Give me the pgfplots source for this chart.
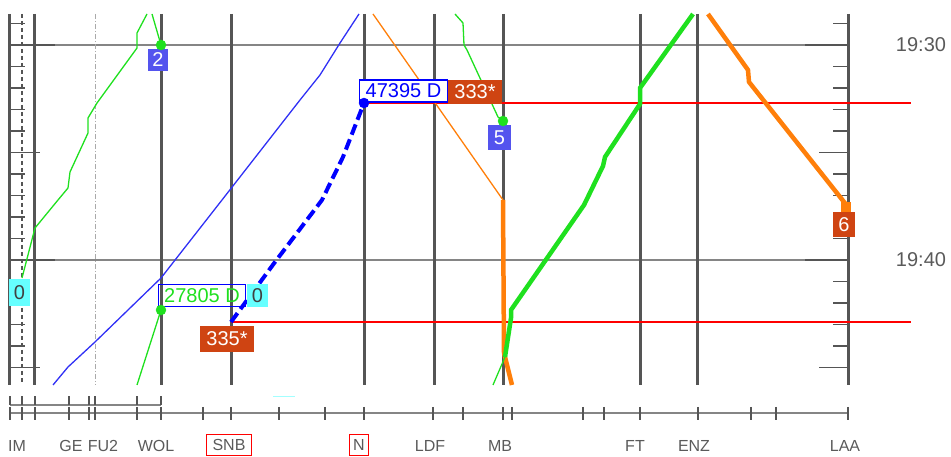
\documentclass[border=0pt]{standalone}
\usepackage{pgfplots}
\pgfplotsset{compat=1.18}
\usepackage{fontspec}
\setmainfont{Liberation Sans}
\definecolor{stat}{HTML}{555555}
\definecolor{gridc}{HTML}{858585}
\definecolor{tgreen}{HTML}{1FE01F}
\definecolor{torange}{HTML}{FF7F0A}
\definecolor{tblue}{HTML}{3030F5}
\definecolor{lblue}{HTML}{5454EE}
\definecolor{lred}{HTML}{CF4412}
\definecolor{lcyan}{HTML}{66FFFF}
\definecolor{txt}{HTML}{5A5A5A}
\begin{document}
\begin{tikzpicture}[
    big/.style={font=\fontsize{20}{20}\selectfont, inner sep=0pt, anchor=center},
    stn/.style={font=\fontsize{16}{16}\selectfont, text=txt, inner sep=0pt, anchor=center},
]
\begin{axis}[
    hide axis, clip=false, scale only axis,
    width=838pt, height=371pt,
    xmin=10, xmax=848,
    ymin=28.558, ymax=45.814,
    y dir=reverse,
]
% page size
\path (axis cs:0,27.907) rectangle (axis cs:951,49.116);

% hour grid
\pgfplotsinvokeforeach{30,40}{
  \draw[gridc, line width=2.5pt] (axis cs:10,#1) -- (axis cs:848,#1);
}
% station lines
\pgfplotsinvokeforeach{10,35,161,231,364,434,503,640,697,848}{
  \draw[stat, line width=3pt] (axis cs:#1,28.558) -- (axis cs:#1,45.814);
}
\draw[stat, line width=1.2pt, dash pattern=on 4pt off 3pt] (axis cs:22,28.558) -- (axis cs:22,45.814);
\draw[gridc!70, line width=1pt, dash pattern=on 5pt off 2pt on 1pt off 2pt] (axis cs:95,28.558) -- (axis cs:95,45.814);

% minute ticks
\pgfplotsinvokeforeach{29,...,45}{
  \draw[stat, line width=1.5pt] (axis cs:10,#1) -- (axis cs:25,#1);
  \draw[stat, line width=1.5pt] (axis cs:833,#1) -- (axis cs:848,#1);
}
\pgfplotsinvokeforeach{35,45}{
  \draw[stat, line width=1.5pt] (axis cs:10,#1) -- (axis cs:40,#1);
  \draw[stat, line width=1.5pt] (axis cs:819,#1) -- (axis cs:848,#1);
}
\pgfplotsinvokeforeach{30,40}{
  \draw[stat, line width=2.5pt] (axis cs:10,#1) -- (axis cs:55,#1);
  \draw[stat, line width=2.5pt] (axis cs:805,#1) -- (axis cs:848,#1);
}
\node[big, text=txt] at (axis cs:921,30) {19:30};
\node[big, text=txt] at (axis cs:921,40) {19:40};

% red lines
\draw[red, line width=1.3pt] (axis cs:364,32.698) -- (axis cs:911,32.698);
\draw[red, line width=1.3pt] (axis cs:231,42.884) -- (axis cs:911,42.884);

% trains
\addplot[tgreen, line width=1.3pt] coordinates {
  (22,40.837) (35,38.512) (58,37.209) (68,36.651) (70,35.907) (88,34.093)
  (88,33.395) (97,32.698) (137,30.140) (137,29.442) (147,28.558)};
\addplot[tgreen, line width=1.3pt] coordinates {(152,28.558) (161,30)};
\addplot[tgreen, line width=1.3pt] coordinates {(161,42.326) (137,45.814)};
\addplot[tblue, line width=1.3pt] coordinates {
  (53,45.814) (68,44.977) (95,43.814) (161,40.837) (222,37.209)
  (300,32.558) (320,31.395) (340,29.907) (359,28.558)};
\addplot[blue, line width=4pt, dash pattern=on 11pt off 5pt] coordinates {
  (231,42.884) (275,40.093) (322,37.209) (343,35.209) (364,32.698)};
\addplot[torange, line width=1.3pt] coordinates {(373,28.558) (503,37.209)};
\addplot[torange, line width=4.5pt] coordinates {(503,37.209) (504,44.326) (512,45.814)};
\addplot[tgreen, line width=1.3pt] coordinates {
  (455,28.558) (463,28.977) (464,30) (467,30.233) (498,33.349) (503,33.535)};
\addplot[tgreen, line width=1.3pt] coordinates {(493,45.814) (505,44.512)};
\addplot[tgreen, line width=4.5pt] coordinates {
  (505,44.512) (511,42.698) (511,42.326) (584,37.442) (603,35.628)
  (605,35.209) (640,32.744) (640,32.0) (693,28.558)};
\addplot[torange, line width=4.5pt] coordinates {
  (708,28.558) (748,31.163) (749,31.721) (848,37.535)};

% markers
\addplot[only marks, mark=*, mark size=5pt, tgreen] coordinates {(161,30) (161,42.326) (503,33.535)};
\addplot[only marks, mark=*, mark size=5pt, blue] coordinates {(364,32.698)};
\addplot[only marks, mark=square*, mark size=4.5pt, torange] coordinates {(846,37.535)};

% labels
\node[big, fill=lblue, text=white, minimum width=20pt, minimum height=22pt] at (axis cs:158,30.698) {2};
\node[big, fill=lblue, text=white, minimum width=23pt, minimum height=25pt] at (axis cs:499.5,34.302) {5};
\node[big, fill=lred, text=white, minimum width=22pt, minimum height=25pt] at (axis cs:844,38.349) {6};
\node[big, fill=lred, text=white, minimum width=54pt, minimum height=24pt] at (axis cs:475,32.186) {333*};
\node[big, fill=lred, text=white, minimum width=54pt, minimum height=26pt] at (axis cs:227,43.674) {335*};
\node[big, draw=blue, line width=1.2pt, fill=white, text=blue, minimum width=88pt, minimum height=22pt] at (axis cs:403.5,32.140) {47395 D};
\node[big, draw=blue, line width=1.2pt, text=tgreen, minimum width=87pt, minimum height=22pt] at (axis cs:202,41.651) {27805 D};
\node[big, fill=lcyan, text=black!75, minimum width=21pt, minimum height=23pt] at (axis cs:257.5,41.651) {0};
\node[big, fill=lcyan, text=black!75, minimum width=21pt, minimum height=27pt] at (axis cs:19.5,41.512) {0};

% bottom line scale
\draw[gridc, line width=1.8pt] (axis cs:10,46.744) -- (axis cs:161,46.744);
\draw[gridc, line width=2.2pt] (axis cs:10,47.116) -- (axis cs:848,47.116);
\pgfplotsinvokeforeach{10,22,35,69,89,95,137,161}{
  \draw[stat, line width=1.2pt] (axis cs:#1,46.326) -- (axis cs:#1,46.744);
}
\pgfplotsinvokeforeach{10,22,35,69,89,95,137,161,203,231,279,325,364,433,463,503,512,583,604,640,698,751,776,848}{
  \draw[stat, line width=1.2pt] (axis cs:#1,46.837) -- (axis cs:#1,47.442);
}
\draw[lcyan!60, line width=1pt] (axis cs:273,46.37) -- (axis cs:295,46.37);

\node[stn] at (axis cs:17,48.65) {IM};
\node[stn] at (axis cs:71,48.65) {GE};
\node[stn] at (axis cs:103,48.65) {FU2};
\node[stn] at (axis cs:156,48.65) {WOL};
\node[stn, draw=red, line width=1.3pt, minimum width=45pt, minimum height=21pt] at (axis cs:229,48.61) {SNB};
\node[stn, draw=red, line width=1.3pt, minimum width=19pt, minimum height=21pt] at (axis cs:359,48.61) {N};
\node[stn] at (axis cs:430,48.65) {LDF};
\node[stn] at (axis cs:500,48.65) {MB};
\node[stn] at (axis cs:635,48.65) {FT};
\node[stn] at (axis cs:694,48.65) {ENZ};
\node[stn] at (axis cs:845,48.65) {LAA};
\end{axis}
\end{tikzpicture}
\end{document}
